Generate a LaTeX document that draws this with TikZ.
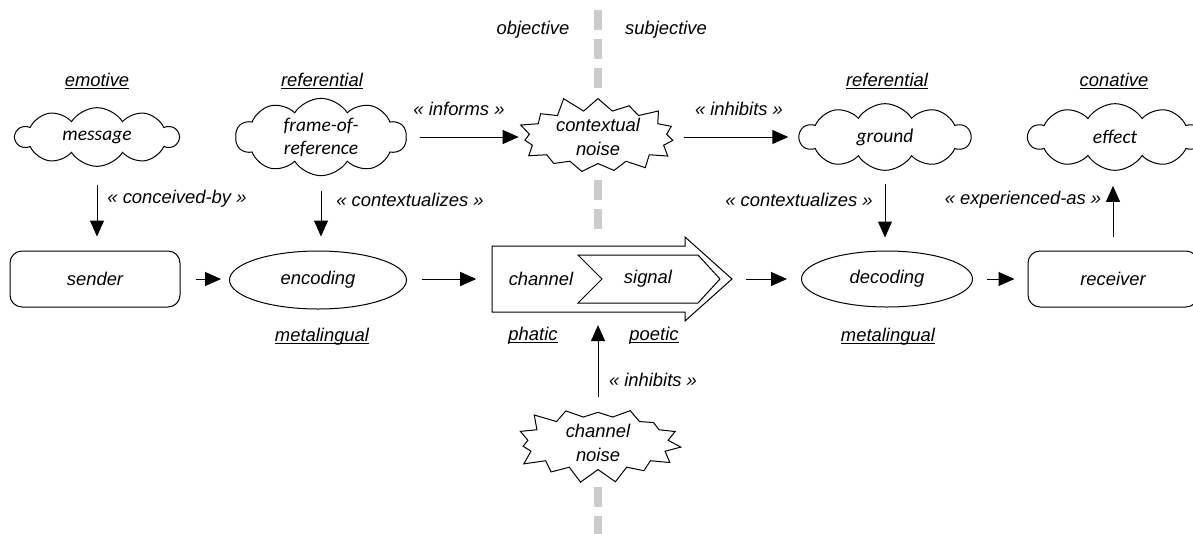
\documentclass[tikz,border=0pt]{standalone}
\usepackage{fontspec}
\setmainfont{Liberation Sans}
\newfontfamily\cloudfont{Carlito}
\usetikzlibrary{shapes.geometric,shapes.symbols,arrows.meta}

% underlined function label, rule just under the baseline
\newcommand\funcul[1]{\setbox0\hbox{#1}\rlap{\rule[-1.9pt]{\wd0}{0.7pt}}\box0}

\tikzset{
  txt/.style={font=\fontsize{13.8}{18}\selectfont\itshape, inner sep=0pt},
  cloudtxt/.style={font=\cloudfont\fontsize{14.6}{17.25}\selectfont\itshape},
  puff/.style={cloud, draw, fill=white, cloud puffs=10, cloud puff arc=115,
    cloud ignores aspect, inner sep=0pt, cloudtxt, align=center, line width=0.75pt},
  noise/.style={starburst, draw, fill=white, starburst points=15,
    starburst point height=12pt, random starburst=11, inner sep=0pt, txt,
    align=center, line width=0.75pt},
  proc/.style={rectangle, rounded corners=9pt, draw, line width=0.75pt,
    minimum width=127.5pt, minimum height=42pt, txt},
  ellnode/.style={ellipse, draw, line width=0.75pt, txt},
  conn/.style={-{Triangle[length=12pt,width=10.5pt]}, line width=0.75pt},
  divider/.style={draw=black!20, line width=6.5pt, dash pattern=on 15pt off 6.75pt},
}

\begin{document}
\begin{tikzpicture}[x=0.75pt,y=-0.75pt]
\useasboundingbox (0,0) rectangle (1193,533);
\clip (0,0) rectangle (1193,533);

% objective / subjective divider
\path[divider] (598,10) -- (598,92) (598,180) -- (598,232) (598,487) -- (598,540);

% side headings
\node[txt] (obj) at (533,30) {objective};
\node[txt] (subj) at (666,30) {subjective};

% function labels
\node[txt] (fEmo) at (97,81) {\funcul{emotive}};
\node[txt] (fRefL) at (322,81) {\funcul{referential}};
\node[txt] (fRefR) at (887,81) {\funcul{referential}};
\node[txt] (fCon) at (1114,81) {\funcul{conative}};
\node[txt] (fMetaL) at (322,337) {\funcul{metalingual}};
\node[txt] (fMetaR) at (888,337) {\funcul{metalingual}};
\node[txt] (fPha) at (533,336) {\funcul{phatic}};
\node[txt] (fPoe) at (654,336) {\funcul{poetic}};

% clouds
\node[puff, minimum width=122pt, minimum height=44pt] (msg) at (97,137) {message};
\node[puff, minimum width=128pt, minimum height=58pt] (frame) at (321,137) {frame-of-\\reference};
\node[puff, minimum width=128pt, minimum height=50pt] (ground) at (885,137) {ground};
\node[puff, minimum width=130pt, minimum height=50pt] (effect) at (1115,137) {effect};

% noise
\node[noise, minimum width=127.5pt, minimum height=54.75pt] (ctx) at (598,137) {contextual\\noise};
\node[noise, minimum width=129.75pt, minimum height=52.5pt, random starburst=23] (chn) at (598,443) {channel\\noise};

% main row
\node[proc] (sender) at (95,279) {sender};
\node[ellnode, minimum width=132.75pt, minimum height=43.5pt] (enc) at (318,280) {encoding};
\node[ellnode, minimum width=128.25pt, minimum height=42pt] (dec) at (887,279) {decoding};
\node[proc] (recv) at (1113,279) {receiver};

% channel arrow with signal inside
\node[minimum width=180.75pt, minimum height=63.75pt, inner sep=0pt] (chan) at (612,279) {};
\draw[line width=0.75pt, fill=white] (492,246) -- (685,246) -- (685,237) -- (732,279)
  -- (685,321) -- (685,312) -- (492,312) -- cycle;
\draw[line width=0.75pt] (578,255) -- (698,255) -- (720,279) -- (698,303)
  -- (578,303) -- (602,279) -- cycle;
\node[txt] (chanTxt) at (541,279) {channel};
\node[txt] (sig) at (648,279) {signal};

% connectors
\draw[conn, shorten <=13.5pt, shorten >=10.5pt] (msg.south) -- (msg.south |- sender.north);
\draw[conn, shorten <=11.25pt, shorten >=10.5pt] (frame.south) -- (frame.south |- enc.north);
\draw[conn, shorten <=9.75pt, shorten >=6pt] (frame.east |- ctx.west) -- (ctx.west);
\draw[conn, shorten <=10.5pt, shorten >=7.5pt] (ctx.east) -- (ctx.east -| ground.west);
\draw[conn, shorten <=9.75pt, shorten >=9.75pt] (ground.south) -- (ground.south |- dec.north);
\draw[conn, shorten <=10.5pt, shorten >=11.25pt] (recv.north) -- (recv.north |- effect.south);
\draw[conn, shorten <=11.25pt, shorten >=6pt] (sender.east) -- (sender.east -| enc.west);
\draw[conn, shorten <=11.25pt, shorten >=11.25pt] (enc.east |- chan.west) -- (chan.west);
\draw[conn, shorten <=9.75pt, shorten >=10.5pt] (chan.east) -- (chan.east -| dec.west);
\draw[conn, shorten <=10.5pt, shorten >=9.75pt] (dec.east) -- (dec.east -| recv.west);
\draw[conn, shorten <=11.25pt, shorten >=2.5pt] (chn.north) -- (chn.north |- chan.south);

% connector labels
\node[txt] (lConc) at (177,199) {« conceived-by »};
\node[txt] (lCtxL) at (410,200) {« contextualizes »};
\node[txt] (lInf) at (459,109) {« informs »};
\node[txt] (lInhT) at (739,109) {« inhibits »};
\node[txt] (lCtxR) at (799,200) {« contextualizes »};
\node[txt] (lExp) at (1023,200) {« experienced-as »};
\node[txt] (lInhB) at (653,380) {« inhibits »};
\end{tikzpicture}
\end{document}
